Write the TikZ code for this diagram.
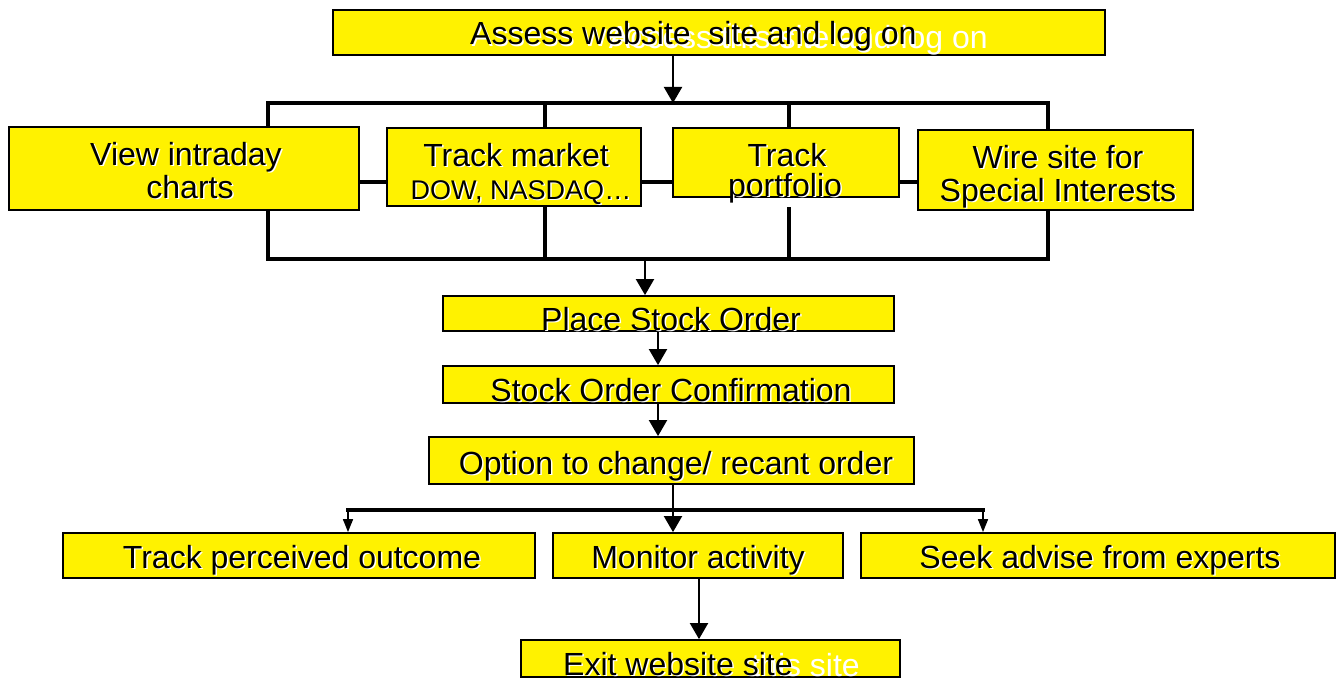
\documentclass[tikz,border=0pt]{standalone}
\usepackage{fontspec}
\setmainfont{Liberation Sans}
\usetikzlibrary{arrows.meta}
% black label text with a thin white drop shadow
\newcommand\shd[1]{\makebox[0pt][l]{\kern1.5pt\raisebox{-1.5pt}{\color{white}#1}}#1}
\begin{document}
\begin{tikzpicture}[x=1pt,y=-1pt,
  box/.style={draw=black, line width=1.8pt, fill=yellow, inner sep=0pt},
  lbl/.style={anchor=base, inner sep=0pt, font=\fontsize{32}{34}\selectfont},
  lbls/.style={anchor=base, inner sep=0pt, font=\fontsize{27}{30}\selectfont},
  ghost/.style={anchor=base east, inner sep=0pt, text=white, font=\fontsize{32}{34}\selectfont},
  bus/.style={line width=4pt, line cap=rect},
  arr/.style={line width=2pt, -{Triangle[width=18pt,length=16pt]}},
  sarr/.style={line width=1.6pt, -{Triangle[width=10pt,length=13pt]}}]
\useasboundingbox (0,0) rectangle (1344,682);

% boxes
\node[box, minimum width=772pt, minimum height=45pt] (top)   at (719,32.5) {};
\node[box, minimum width=350pt, minimum height=83pt] (view)  at (184,168.5) {};
\node[box, minimum width=254pt, minimum height=78pt] (mkt)   at (514,167) {};
\node[box, minimum width=226pt, minimum height=69pt] (port)  at (786,162.5) {};
\node[box, minimum width=275pt, minimum height=80pt] (wire)  at (1055.5,170) {};
\node[box, minimum width=451pt, minimum height=35pt] (place) at (668.5,313.5) {};
\node[box, minimum width=451pt, minimum height=37pt] (conf)  at (668.5,384.5) {};
\node[box, minimum width=485pt, minimum height=47pt] (opt)   at (671.5,460.5) {};
\node[box, minimum width=472pt, minimum height=45pt] (track) at (299,555.5) {};
\node[box, minimum width=290pt, minimum height=45pt] (mon)   at (698,555.5) {};
\node[box, minimum width=474pt, minimum height=45pt] (seek)  at (1098,555.5) {};
\node[box, minimum width=379pt, minimum height=37pt] (exit)  at (710.5,658.5) {};

% faded earlier wording left under two of the labels
\node[ghost] (topg)  at (988,49)  {Access this site and log on};
\node[ghost] (exitg) at (860,676) {this site};

% labels
\node[lbl, anchor=base west] (t0) at (470,45) {\shd{Assess website\hspace{0.55em}site and log on}};
\node[lbl] (v1) at (186,165) {\shd{View intraday}};
\node[lbl] (v2) at (190,198) {\shd{charts}};
\node[lbl] (m1) at (516,166) {\shd{Track market}};
\node[lbls] (m2) at (521,199) {\shd{DOW, NASDAQ\ldots}};
\node[lbl] (p1) at (787,166) {\shd{Track}};
\node[lbl] (p2) at (785,196) {\shd{portfolio}};
\node[lbl] (w1) at (1058,168) {\shd{Wire site for}};
\node[lbl] (w2) at (1058,201) {\shd{Special Interests}};
\node[lbl] (l1) at (671,330) {\shd{Place Stock Order}};
\node[lbl] (l2) at (671,401) {\shd{Stock Order Confirmation}};
\node[lbl] (l3) at (676,474) {\shd{Option to change/ recant order}};
\node[lbl] (l4) at (302,568) {\shd{Track perceived outcome}};
\node[lbl] (l5) at (698,568) {\shd{Monitor activity}};
\node[lbl] (l6) at (1100,568) {\shd{Seek advise from experts}};
\node[lbl, anchor=base west] (l7) at (563,675) {\shd{Exit website site}};

% upper fan-out bus
\coordinate (tb)  at (673,103);
\coordinate (tbL) at (268,103);
\coordinate (tb2) at (545,103);
\coordinate (tb3) at (789,103);
\coordinate (tbR) at (1048,103);
\draw[arr] (top.south -| tb) -- (tb);
\draw[bus] (tbL) -- (tbR);
\draw[bus] (tbL) -- (view.north -| tbL);
\draw[bus] (tb2) -- (mkt.north -| tb2);
\draw[bus] (tb3) -- (port.north -| tb3);
\draw[bus] (tbR) -- (wire.north -| tbR);

% side links between the four activity boxes
\coordinate (hy) at (0,182);
\draw[bus] (view.east |- hy) -- (mkt.west |- hy);
\draw[bus] (mkt.east |- hy)  -- (port.west |- hy);
\draw[bus] (port.east |- hy) -- (wire.west |- hy);

% lower collecting bus
\coordinate (bbL) at (268,259);
\coordinate (bb2) at (545,259);
\coordinate (bb3) at (789,259);
\coordinate (bbR) at (1048,259);
\coordinate (bbA) at (645,259);
\draw[bus, line width=4.5pt] (bbL) -- (bbR);
\draw[bus] (view.south -| bbL) -- (bbL);
\draw[bus] ([yshift=-2pt]mkt.south -| bb2) -- (bb2);
\draw[bus] ([yshift=-11pt]port.south -| bb3) -- (bb3);
\draw[bus] (wire.south -| bbR) -- (bbR);
\draw[arr] (bbA) -- (place.north -| bbA);

% order sequence
\coordinate (c1) at (658,0);
\draw[arr] (place.south -| c1) -- (conf.north -| c1);
\draw[arr] (conf.south -| c1) -- (opt.north -| c1);

% follow-up branches
\coordinate (ob)  at (673,510);
\coordinate (obL) at (348,510);
\coordinate (obR) at (983,510);
\draw[line width=2pt] (opt.south -| ob) -- (ob);
\draw[bus] (obL) -- (obR);
\draw[arr] (ob) -- (mon.north -| ob);
\draw[sarr] (obL) -- (track.north -| obL);
\draw[sarr] (obR) -- (seek.north -| obR);

% exit
\coordinate (me) at (699,0);
\draw[arr] (mon.south -| me) -- (exit.north -| me);
\end{tikzpicture}
\end{document}
